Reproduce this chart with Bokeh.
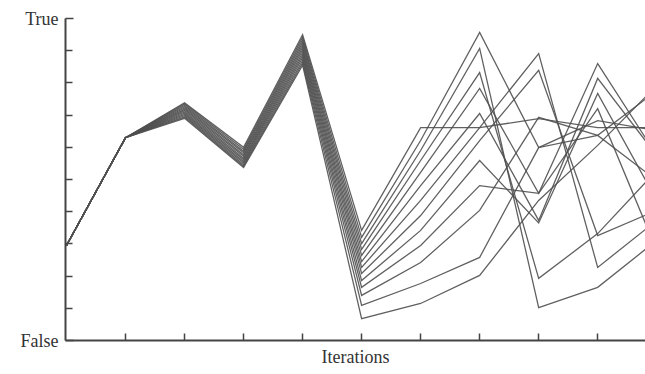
from bokeh.plotting import figure
from bokeh.models import FixedTicker, Range1d
from bokeh.embed import file_html
from bokeh.resources import INLINE

iterations = [0, 1, 2, 3, 4, 5, 6, 7, 8, 9, 10]

run_01 = [0.295, 0.63, 0.738, 0.600, 0.950, 0.342, 0.661, 0.661, 0.689, 0.661, 0.661]
run_02 = [0.295, 0.63, 0.734, 0.594, 0.942, 0.320, 0.621, 0.957, 0.599, 0.637, 0.776]
run_03 = [0.295, 0.63, 0.730, 0.588, 0.934, 0.301, 0.590, 0.907, 0.102, 0.165, 0.311]
run_04 = [0.295, 0.63, 0.726, 0.583, 0.926, 0.283, 0.559, 0.832, 0.193, 0.332, 0.528]
run_05 = [0.295, 0.63, 0.722, 0.577, 0.918, 0.264, 0.522, 0.783, 0.457, 0.860, 0.575]
run_06 = [0.295, 0.63, 0.718, 0.572, 0.910, 0.245, 0.481, 0.705, 0.373, 0.814, 0.575]
run_07 = [0.295, 0.63, 0.714, 0.566, 0.902, 0.227, 0.435, 0.661, 0.891, 0.227, 0.373]
run_08 = [0.295, 0.63, 0.710, 0.561, 0.894, 0.208, 0.388, 0.621, 0.839, 0.326, 0.404]
run_09 = [0.295, 0.63, 0.706, 0.556, 0.886, 0.186, 0.342, 0.559, 0.365, 0.767, 0.435]
run_10 = [0.295, 0.63, 0.702, 0.551, 0.878, 0.165, 0.295, 0.481, 0.457, 0.720, 0.280]
run_11 = [0.295, 0.63, 0.698, 0.546, 0.870, 0.140, 0.242, 0.404, 0.693, 0.637, 0.497]
run_12 = [0.295, 0.63, 0.694, 0.541, 0.862, 0.109, 0.177, 0.258, 0.599, 0.683, 0.652]
run_13 = [0.295, 0.63, 0.690, 0.537, 0.855, 0.068, 0.115, 0.202, 0.435, 0.606, 0.792]

runs = [run_01, run_02, run_03, run_04, run_05, run_06, run_07,
        run_08, run_09, run_10, run_11, run_12, run_13]

y_major = [0, 1]
y_minor = [0.1, 0.2, 0.3, 0.4, 0.5, 0.6, 0.7, 0.8, 0.9]
y_labels = {0: "False", 1: "True"}
x_ticks = [1, 2, 3, 4, 5, 6, 7, 8, 9]

p = figure(width=645, height=369, output_backend="svg", toolbar_location=None,
           x_range=Range1d(-0.017, 9.81), y_range=Range1d(0, 1),
           min_border_left=65, min_border_right=0, min_border_top=18,
           min_border_bottom=26)
p.outline_line_color = None
p.grid.visible = False
p.background_fill_color = "white"
p.border_fill_color = "white"

for r in runs:
    p.line(iterations, r, line_color="#505050", line_width=1.3, line_alpha=0.9,
           line_join="miter")

font = "Liberation Serif"
ax = p.yaxis[0]
ax.ticker = FixedTicker(ticks=y_major, minor_ticks=y_minor)
ax.major_label_overrides = y_labels
ax.major_tick_in = 8
ax.major_tick_out = 0
ax.minor_tick_in = 7
ax.minor_tick_out = 0
ax.axis_line_width = 2
ax.axis_line_color = "#444444"
ax.major_tick_line_color = "#444444"
ax.minor_tick_line_color = "#444444"
ax.major_tick_line_width = 1.5
ax.minor_tick_line_width = 1.5
ax.major_label_text_font = font
ax.major_label_text_font_size = "18px"
ax.major_label_text_color = "#333333"
ax.major_label_standoff = 7

bx = p.xaxis[0]
bx.ticker = FixedTicker(ticks=x_ticks)
bx.major_label_overrides = {t: "" for t in x_ticks}
bx.major_tick_in = 7
bx.major_tick_out = 0
bx.minor_tick_line_color = None
bx.axis_line_width = 2
bx.axis_line_color = "#444444"
bx.major_tick_line_color = "#444444"
bx.major_tick_line_width = 1.5
bx.major_label_text_font_size = "1px"
bx.major_label_standoff = 0
bx.axis_label = "Iterations"
bx.axis_label_text_font = font
bx.axis_label_text_font_size = "18px"
bx.axis_label_text_font_style = "normal"
bx.axis_label_text_color = "#333333"
bx.axis_label_standoff = 6

open("out.html", "w").write(file_html(p, INLINE))
